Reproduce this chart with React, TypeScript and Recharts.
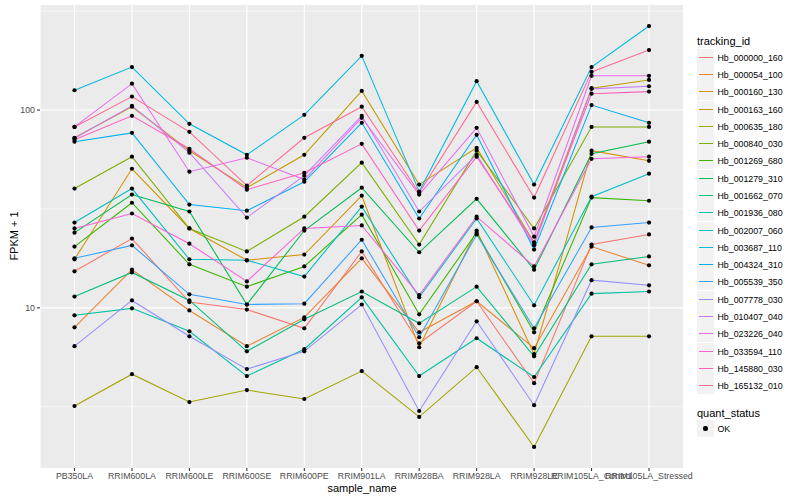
import { LineChart, Line, XAxis, YAxis, CartesianGrid } from 'recharts'

const sampleNames = [
  'PB350LA',
  'RRIM600LA',
  'RRIM600LE',
  'RRIM600SE',
  'RRIM600PE',
  'RRIM901LA',
  'RRIM928BA',
  'RRIM928LA',
  'RRIM928LE',
  'RRIM105LA_Control',
  'RRIM105LA_Stressed',
]

// FPKM + 1
const hb_000000_160 = [15.3, 22.4, 10.7, 9.8, 7.88, 19.3, 6.62, 10.8, 4.16, 20.9, 23.5]
const hb_000054_100 = [7.97, 15.6, 9.7, 6.4, 8.95, 17.8, 7.52, 10.8, 6.25, 20.4, 16.4]
const hb_000160_130 = [17.6, 50.5, 25.2, 17.4, 18.6, 36.9, 6.32, 24.6, 5.83, 62.3, 55.4]
const hb_000163_160 = [72.4, 104, 62.3, 40.5, 59.4, 125, 42.0, 64.5, 21.4, 129, 142]
const hb_000635_180 = [3.19, 4.62, 3.34, 3.84, 3.46, 4.79, 2.81, 5.01, 1.98, 7.18, 7.18]
const hb_000840_030 = [40.1, 58.1, 25.2, 19.3, 28.9, 54.2, 20.9, 62.3, 25.2, 82.2, 82.2]
const hb_001269_680 = [20.4, 34.0, 16.6, 12.8, 16.2, 29.6, 9.27, 24.0, 7.52, 36.1, 34.8]
const hb_001279_310 = [24.0, 37.4, 30.7, 10.4, 24.6, 40.5, 19.1, 35.6, 15.6, 60.1, 69.2]
const hb_001662_070 = [11.4, 15.1, 10.9, 6.03, 8.75, 12.1, 8.35, 12.8, 5.69, 16.6, 18.2]
const hb_001936_080 = [9.17, 9.94, 7.61, 4.52, 6.18, 11.3, 4.52, 7.02, 4.47, 11.8, 12.1]
const hb_002007_060 = [27.0, 40.1, 17.6, 17.4, 14.4, 32.5, 11.3, 28.3, 10.3, 36.5, 47.7]
const hb_003687_110 = [126, 165, 85.2, 59.4, 94.6, 188, 38.7, 140, 42.0, 165, 266]
const hb_004324_310 = [69.2, 76.7, 33.3, 31.0, 43.4, 86.2, 28.3, 75.0, 19.7, 106, 86.2]
const hb_005539_350 = [17.8, 20.7, 11.7, 10.4, 10.5, 22.1, 7.1, 23.5, 7.88, 25.5, 27.0]
const hb_007778_030 = [6.4, 10.9, 7.18, 4.9, 6.03, 10.4, 3.01, 8.55, 3.22, 13.8, 13.0]
const hb_010407_040 = [72.0, 105, 60.9, 28.6, 46.6, 93.5, 30.7, 59.4, 20.7, 128, 132]
const hb_023226_040 = [82.2, 136, 48.8, 57.4, 44.5, 91.4, 37.4, 81.3, 22.9, 149, 149]
const hb_033594_110 = [25.2, 30.0, 21.1, 13.6, 25.2, 26.1, 11.6, 28.9, 16.2, 56.7, 58.1]
const hb_145880_030 = [70.8, 93.5, 63.7, 39.6, 48.2, 67.5, 24.6, 58.1, 21.4, 121, 124]
const hb_165132_010 = [82.2, 117, 77.6, 41.5, 72.4, 104, 38.2, 110, 36.1, 156, 201]

const trackingIds = [
  'Hb_000000_160',
  'Hb_000054_100',
  'Hb_000160_130',
  'Hb_000163_160',
  'Hb_000635_180',
  'Hb_000840_030',
  'Hb_001269_680',
  'Hb_001279_310',
  'Hb_001662_070',
  'Hb_001936_080',
  'Hb_002007_060',
  'Hb_003687_110',
  'Hb_004324_310',
  'Hb_005539_350',
  'Hb_007778_030',
  'Hb_010407_040',
  'Hb_023226_040',
  'Hb_033594_110',
  'Hb_145880_030',
  'Hb_165132_010',
]

const seriesValues = [
  hb_000000_160, hb_000054_100, hb_000160_130, hb_000163_160, hb_000635_180,
  hb_000840_030, hb_001269_680, hb_001279_310, hb_001662_070, hb_001936_080,
  hb_002007_060, hb_003687_110, hb_004324_310, hb_005539_350, hb_007778_030,
  hb_010407_040, hb_023226_040, hb_033594_110, hb_145880_030, hb_165132_010,
]

// ggplot default hue palette, 20 levels
const palette = [
  '#F8766D', '#EA8331', '#D89000', '#C09B00', '#A3A500',
  '#7CAE00', '#39B600', '#00BB4E', '#00BF7D', '#00C1A3',
  '#00BFC4', '#00BAE0', '#00B0F6', '#35A2FF', '#9590FF',
  '#C77CFF', '#E76BF3', '#FA62DB', '#FF62BC', '#FF6C91',
]

const majorTicks = [10, 100]
const minorTicks = [10 ** 0.5, 10 ** 1.5, 10 ** 2.5]

const rows = sampleNames.map((name, i) => {
  const row: Record<string, string | number> = { sample_name: name }
  trackingIds.forEach((id, j) => {
    row[id] = seriesValues[j][i]
  })
  return row
})

// ggplot continuous expansion: 5% of the log range on each side
const allValues = seriesValues.flat()
const logMin = Math.log10(Math.min(...allValues))
const logMax = Math.log10(Math.max(...allValues))
const pad = (logMax - logMin) * 0.05
const yDomain = [10 ** (logMin - pad), 10 ** (logMax + pad)]

const font = '"Liberation Sans", Arial, Helvetica, sans-serif'
const tickStyle = { fontSize: 8.8, fill: '#4D4D4D', fontFamily: font }
const tickLineStyle = { stroke: '#333333', strokeWidth: 1.07 }

const keyBox = {
  width: 17,
  height: 17,
  background: '#F2F2F2',
  display: 'flex',
  alignItems: 'center',
  justifyContent: 'center',
}

export default function App() {
  return (
    <div
      style={{
        position: 'absolute',
        left: 0,
        top: 0,
        width: 800,
        height: 500,
        background: '#FFFFFF',
        fontFamily: font,
      }}
    >
      <LineChart
        width={800}
        height={500}
        data={rows}
        margin={{ top: 5, right: 116.5, bottom: 0, left: 0 }}
      >
        <CartesianGrid
          fill="#EBEBEB"
          stroke="#FFFFFF"
          strokeWidth={0.53}
          vertical={false}
          horizontalValues={minorTicks}
        />
        <CartesianGrid stroke="#FFFFFF" strokeWidth={1.07} horizontalValues={majorTicks} />
        <XAxis
          dataKey="sample_name"
          interval={0}
          height={32}
          tickSize={3}
          tickMargin={2}
          axisLine={false}
          tickLine={tickLineStyle}
          tick={tickStyle}
          padding={{ left: 34.5, right: 34.5 }}
        />
        <YAxis
          type="number"
          scale="log"
          domain={yDomain}
          allowDataOverflow
          ticks={majorTicks}
          tickFormatter={(v: number) => String(v)}
          width={40}
          tickSize={3}
          tickMargin={2}
          axisLine={false}
          tickLine={tickLineStyle}
          tick={tickStyle}
        />
        {trackingIds.map((id, j) => (
          <Line
            key={id}
            type="linear"
            dataKey={id}
            stroke={palette[j]}
            strokeWidth={1.07}
            dot={false}
            activeDot={false}
            isAnimationActive={false}
          />
        ))}
        {/* points drawn after every line, as geom_point over geom_line */}
        {trackingIds.map((id) => (
          <Line
            key={id + '-pt'}
            type="linear"
            dataKey={id}
            stroke="none"
            dot={{ r: 2.1, fill: '#000000', stroke: 'none' }}
            activeDot={false}
            legendType="none"
            isAnimationActive={false}
          />
        ))}
      </LineChart>

      {/* axis titles */}
      <div
        style={{
          position: 'absolute',
          left: 362,
          top: 488,
          transform: 'translate(-50%, -50%)',
          fontSize: 11,
          whiteSpace: 'nowrap',
          color: '#000',
        }}
      >
        sample_name
      </div>
      <div
        style={{
          position: 'absolute',
          left: 14,
          top: 236,
          transform: 'translate(-50%, -50%) rotate(-90deg)',
          fontSize: 11,
          whiteSpace: 'nowrap',
          color: '#000',
        }}
      >
        FPKM + 1
      </div>

      {/* tracking_id legend */}
      <div
        style={{
          position: 'absolute',
          left: 697,
          top: 41,
          transform: 'translateY(-50%)',
          fontSize: 11,
          whiteSpace: 'nowrap',
        }}
      >
        tracking_id
      </div>
      {trackingIds.map((id, j) => (
        <div
          key={id}
          style={{
            position: 'absolute',
            left: 697,
            top: Math.round(57.3 + j * 17.28 - 8.5),
            height: 17,
            display: 'flex',
            alignItems: 'center',
          }}
        >
          <div style={keyBox}>
            <div style={{ width: 14, height: 1.5, background: palette[j] }} />
          </div>
          <span style={{ marginLeft: 3.5, fontSize: 8.8, whiteSpace: 'nowrap' }}>{id}</span>
        </div>
      ))}

      {/* quant_status legend */}
      <div
        style={{
          position: 'absolute',
          left: 697,
          top: 412.5,
          transform: 'translateY(-50%)',
          fontSize: 11,
          whiteSpace: 'nowrap',
        }}
      >
        quant_status
      </div>
      <div
        style={{
          position: 'absolute',
          left: 697,
          top: 420,
          height: 17,
          display: 'flex',
          alignItems: 'center',
        }}
      >
        <div style={keyBox}>
          <div style={{ width: 4.2, height: 4.2, borderRadius: '50%', background: '#000' }} />
        </div>
        <span style={{ marginLeft: 3.5, fontSize: 8.8, whiteSpace: 'nowrap' }}>OK</span>
      </div>
    </div>
  )
}
